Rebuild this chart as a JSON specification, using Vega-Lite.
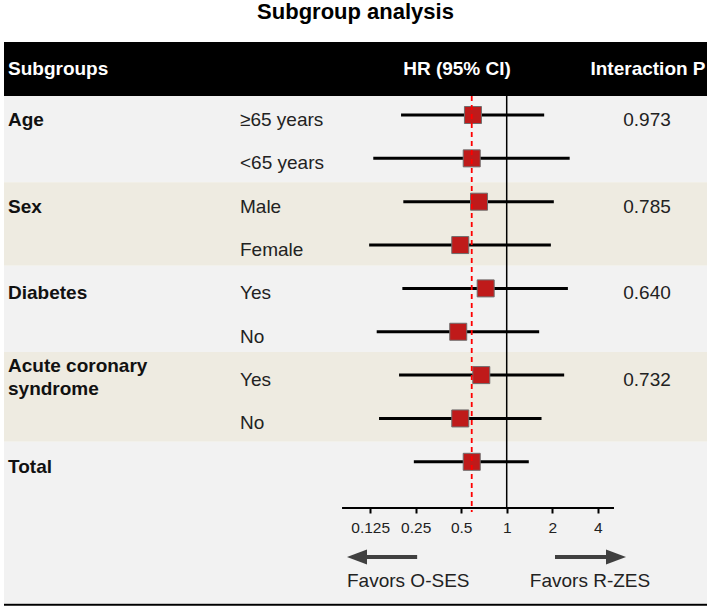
{
  "$schema": "https://vega.github.io/schema/vega-lite/v6.json",
  "width": 703,
  "height": 580,
  "autosize": {"type": "none"},
  "padding": {"left": 4, "top": 30, "right": 2, "bottom": 0},
  "background": "white",
  "title": {"text": "Subgroup analysis", "fontSize": 22, "font": "Liberation Sans", "fontWeight": "bold", "anchor": "middle", "offset": 6, "color": "black"},
  "config": {"view": {"stroke": null}, "axis": {"grid": false}, "text": {"font": "Liberation Sans"}},
  "datasets": {
    "rows": [
      {"row": 1, "group": "Age", "level": "≥65 years", "hr": 0.598, "lo": 0.200, "hi": 1.77},
      {"row": 2, "group": "Age", "level": "<65 years", "hr": 0.587, "lo": 0.131, "hi": 2.61},
      {"row": 3, "group": "Sex", "level": "Male", "hr": 0.656, "lo": 0.207, "hi": 2.05},
      {"row": 4, "group": "Sex", "level": "Female", "hr": 0.493, "lo": 0.123, "hi": 1.96},
      {"row": 5, "group": "Diabetes", "level": "Yes", "hr": 0.726, "lo": 0.204, "hi": 2.54},
      {"row": 6, "group": "Diabetes", "level": "No", "hr": 0.478, "lo": 0.138, "hi": 1.64},
      {"row": 7, "group": "Acute coronary syndrome", "level": "Yes", "hr": 0.679, "lo": 0.194, "hi": 2.40},
      {"row": 8, "group": "Acute coronary syndrome", "level": "No", "hr": 0.493, "lo": 0.143, "hi": 1.70},
      {"row": 9, "group": "Total", "level": "", "hr": 0.587, "lo": 0.243, "hi": 1.40}
    ],
    "groups": [
      {"group": "Age", "label": "Age", "row": 1, "top": 0.55, "bottom": 2.55, "p": "0.973"},
      {"group": "Sex", "label": "Sex", "row": 3, "top": 2.55, "bottom": 4.48, "p": "0.785"},
      {"group": "Diabetes", "label": "Diabetes", "row": 5, "top": 4.48, "bottom": 6.47, "p": "0.640"},
      {"group": "Acute coronary syndrome", "label": "Acute coronary\nsyndrome", "row": 7, "top": 6.47, "bottom": 8.54, "p": "0.732"},
      {"group": "Total", "label": "Total", "row": 9, "top": 8.54, "bottom": 12.26, "p": ""}
    ]
  },
  "data": {"name": "rows"},
  "layer": [
    {
      "data": {"name": "groups"},
      "mark": {"type": "rect"},
      "encoding": {
        "y": {"field": "top", "type": "quantitative", "scale": {"domain": [-0.9608, 12.4187], "reverse": true, "nice": false, "zero": false}, "axis": null},
        "y2": {"field": "bottom"},
        "fill": {"field": "group", "type": "nominal", "legend": null, "scale": {"domain": ["Age", "Sex", "Diabetes", "Acute coronary syndrome", "Total"], "range": ["#f2f2f2", "#eeebe1", "#f2f2f2", "#eeebe1", "#f2f2f2"]}}
      }
    },
    {
      "data": {"values": [{"part": "header"}]},
      "mark": {"type": "rect", "color": "black"},
      "encoding": {
        "y": {"datum": -0.684, "type": "quantitative", "scale": {"domain": [-0.9608, 12.4187], "reverse": true, "nice": false, "zero": false}, "axis": null},
        "y2": {"datum": 0.562}
      }
    },
    {
      "data": {"values": [{"part": "header"}]},
      "mark": {"type": "text", "align": "left", "baseline": "middle", "fontSize": 19, "fontWeight": "bold", "color": "white"},
      "encoding": {
        "x": {"value": 4},
        "y": {"datum": -0.07, "type": "quantitative", "scale": {"domain": [-0.9608, 12.4187], "reverse": true, "nice": false, "zero": false}, "axis": null},
        "text": {"value": "Subgroups"}
      }
    },
    {
      "data": {"values": [{"part": "header"}]},
      "mark": {"type": "text", "align": "center", "baseline": "middle", "fontSize": 19, "fontWeight": "bold", "color": "white"},
      "encoding": {
        "x": {"value": 453},
        "y": {"datum": -0.07, "type": "quantitative", "scale": {"domain": [-0.9608, 12.4187], "reverse": true, "nice": false, "zero": false}, "axis": null},
        "text": {"value": "HR (95% CI)"}
      }
    },
    {
      "data": {"values": [{"part": "header"}]},
      "mark": {"type": "text", "align": "center", "baseline": "middle", "fontSize": 19, "fontWeight": "bold", "color": "white"},
      "encoding": {
        "x": {"value": 644},
        "y": {"datum": -0.07, "type": "quantitative", "scale": {"domain": [-0.9608, 12.4187], "reverse": true, "nice": false, "zero": false}, "axis": null},
        "text": {"value": "Interaction P"}
      }
    },
    {
      "mark": {"type": "rule", "color": "black", "strokeWidth": 3},
      "encoding": {
        "x": {"field": "lo", "type": "quantitative", "scale": {"type": "log", "base": 2, "domain": [0.00047217, 21.144], "nice": false}, "axis": {"values": [0.125, 0.25, 0.5, 1, 2, 4], "format": "~g", "domain": false, "grid": false, "offset": -102, "zindex": 2, "tickSize": 5, "tickWidth": 2, "tickColor": "black", "labelFontSize": 15.5, "labelFont": "Liberation Sans", "labelColor": "#222222", "labelPadding": 7, "title": null}},
        "x2": {"field": "hi"},
        "y": {"field": "row", "type": "quantitative", "scale": {"domain": [-0.9608, 12.4187], "reverse": true, "nice": false, "zero": false}, "axis": null}
      }
    },
    {
      "data": {"values": [{"part": "null line"}]},
      "mark": {"type": "rule", "color": "black", "strokeWidth": 1.5},
      "encoding": {
        "x": {"datum": 1, "type": "quantitative", "scale": {"type": "log", "base": 2, "domain": [0.00047217, 21.144], "nice": false}},
        "y": {"datum": 0.562, "type": "quantitative", "scale": {"domain": [-0.9608, 12.4187], "reverse": true, "nice": false, "zero": false}, "axis": null},
        "y2": {"datum": 10.066}
      }
    },
    {
      "mark": {"type": "square", "filled": true, "size": 289, "fill": "#bf1a1a", "stroke": "#6e6e6e", "strokeWidth": 1, "opacity": 1},
      "encoding": {
        "x": {"field": "hr", "type": "quantitative", "scale": {"type": "log", "base": 2, "domain": [0.00047217, 21.144], "nice": false}},
        "y": {"field": "row", "type": "quantitative", "scale": {"domain": [-0.9608, 12.4187], "reverse": true, "nice": false, "zero": false}, "axis": null}
      }
    },
    {
      "transform": [{"filter": "datum.group === 'Total'"}],
      "mark": {"type": "rule", "color": "#ff0000", "strokeWidth": 1.8, "strokeDash": [5, 4]},
      "encoding": {
        "x": {"field": "hr", "type": "quantitative", "scale": {"type": "log", "base": 2, "domain": [0.00047217, 21.144], "nice": false}},
        "y": {"datum": 0.562, "type": "quantitative", "scale": {"domain": [-0.9608, 12.4187], "reverse": true, "nice": false, "zero": false}, "axis": null},
        "y2": {"datum": 10.16}
      }
    },
    {
      "data": {"name": "groups"},
      "transform": [{"filter": "datum.group !== 'Acute coronary syndrome'"}],
      "mark": {"type": "text", "align": "left", "baseline": "middle", "fontSize": 19, "fontWeight": "bold", "color": "#111111", "dy": 5},
      "encoding": {
        "x": {"value": 4},
        "y": {"field": "row", "type": "quantitative", "scale": {"domain": [-0.9608, 12.4187], "reverse": true, "nice": false, "zero": false}, "axis": null},
        "text": {"field": "label"}
      }
    },
    {
      "data": {"name": "groups"},
      "transform": [{"filter": "datum.group === 'Acute coronary syndrome'"}],
      "mark": {"type": "text", "align": "left", "baseline": "middle", "fontSize": 19, "fontWeight": "bold", "color": "#111111", "lineBreak": "\n", "lineHeight": 23, "dy": -9},
      "encoding": {
        "x": {"value": 4},
        "y": {"field": "row", "type": "quantitative", "scale": {"domain": [-0.9608, 12.4187], "reverse": true, "nice": false, "zero": false}, "axis": null},
        "text": {"field": "label"}
      }
    },
    {
      "data": {"name": "groups"},
      "mark": {"type": "text", "align": "center", "baseline": "middle", "fontSize": 19, "color": "#222222", "dy": 5},
      "encoding": {
        "x": {"value": 643},
        "y": {"field": "row", "type": "quantitative", "scale": {"domain": [-0.9608, 12.4187], "reverse": true, "nice": false, "zero": false}, "axis": null},
        "text": {"field": "p"}
      }
    },
    {
      "mark": {"type": "text", "align": "left", "baseline": "middle", "fontSize": 19, "color": "#222222", "dy": 5},
      "encoding": {
        "x": {"value": 236},
        "y": {"field": "row", "type": "quantitative", "scale": {"domain": [-0.9608, 12.4187], "reverse": true, "nice": false, "zero": false}, "axis": null},
        "text": {"field": "level"}
      }
    },
    {
      "data": {"values": [{"part": "axis line"}]},
      "mark": {"type": "rule", "color": "black", "strokeWidth": 2},
      "encoding": {
        "x": {"datum": 0.0814, "type": "quantitative", "scale": {"type": "log", "base": 2, "domain": [0.00047217, 21.144], "nice": false}},
        "x2": {"datum": 5.127},
        "y": {"datum": 10.066, "type": "quantitative", "scale": {"domain": [-0.9608, 12.4187], "reverse": true, "nice": false, "zero": false}, "axis": null}
      }
    },
    {
      "data": {"values": [{"part": "arrow left"}]},
      "mark": {"type": "rule", "color": "#404040", "strokeWidth": 4},
      "encoding": {
        "x": {"datum": 0.1022, "type": "quantitative", "scale": {"type": "log", "base": 2, "domain": [0.00047217, 21.144], "nice": false}},
        "x2": {"datum": 0.2556},
        "y": {"datum": 11.196, "type": "quantitative", "scale": {"domain": [-0.9608, 12.4187], "reverse": true, "nice": false, "zero": false}, "axis": null}
      }
    },
    {
      "data": {"values": [{"part": "arrow right"}]},
      "mark": {"type": "rule", "color": "#404040", "strokeWidth": 4},
      "encoding": {
        "x": {"datum": 2.087, "type": "quantitative", "scale": {"type": "log", "base": 2, "domain": [0.00047217, 21.144], "nice": false}},
        "x2": {"datum": 5.286},
        "y": {"datum": 11.196, "type": "quantitative", "scale": {"domain": [-0.9608, 12.4187], "reverse": true, "nice": false, "zero": false}, "axis": null}
      }
    },
    {
      "data": {"values": [{"part": "arrow left head"}]},
      "mark": {"type": "point", "shape": "M-1,0L1,-0.75L1,0.75Z", "filled": true, "size": 400, "color": "#404040", "opacity": 1},
      "encoding": {
        "x": {"datum": 0.1022, "type": "quantitative", "scale": {"type": "log", "base": 2, "domain": [0.00047217, 21.144], "nice": false}},
        "y": {"datum": 11.196, "type": "quantitative", "scale": {"domain": [-0.9608, 12.4187], "reverse": true, "nice": false, "zero": false}, "axis": null}
      }
    },
    {
      "data": {"values": [{"part": "arrow right head"}]},
      "mark": {"type": "point", "shape": "M1,0L-1,-0.75L-1,0.75Z", "filled": true, "size": 400, "color": "#404040", "opacity": 1},
      "encoding": {
        "x": {"datum": 5.286, "type": "quantitative", "scale": {"type": "log", "base": 2, "domain": [0.00047217, 21.144], "nice": false}},
        "y": {"datum": 11.196, "type": "quantitative", "scale": {"domain": [-0.9608, 12.4187], "reverse": true, "nice": false, "zero": false}, "axis": null}
      }
    },
    {
      "data": {"values": [{"part": "favors left"}]},
      "mark": {"type": "text", "align": "left", "baseline": "middle", "fontSize": 19, "color": "#222222", "dy": 1},
      "encoding": {
        "x": {"datum": 0.0878, "type": "quantitative", "scale": {"type": "log", "base": 2, "domain": [0.00047217, 21.144], "nice": false}},
        "y": {"datum": 11.727, "type": "quantitative", "scale": {"domain": [-0.9608, 12.4187], "reverse": true, "nice": false, "zero": false}, "axis": null},
        "text": {"value": "Favors O-SES"}
      }
    },
    {
      "data": {"values": [{"part": "favors right"}]},
      "mark": {"type": "text", "align": "center", "baseline": "middle", "fontSize": 19, "color": "#222222", "dy": 1},
      "encoding": {
        "x": {"datum": 3.557, "type": "quantitative", "scale": {"type": "log", "base": 2, "domain": [0.00047217, 21.144], "nice": false}},
        "y": {"datum": 11.727, "type": "quantitative", "scale": {"domain": [-0.9608, 12.4187], "reverse": true, "nice": false, "zero": false}, "axis": null},
        "text": {"value": "Favors R-ZES"}
      }
    },
    {
      "data": {"values": [{"part": "bottom line"}]},
      "mark": {"type": "rule", "color": "black", "strokeWidth": 2},
      "encoding": {
        "y": {"datum": 12.30, "type": "quantitative", "scale": {"domain": [-0.9608, 12.4187], "reverse": true, "nice": false, "zero": false}, "axis": null}
      }
    }
  ]
}
